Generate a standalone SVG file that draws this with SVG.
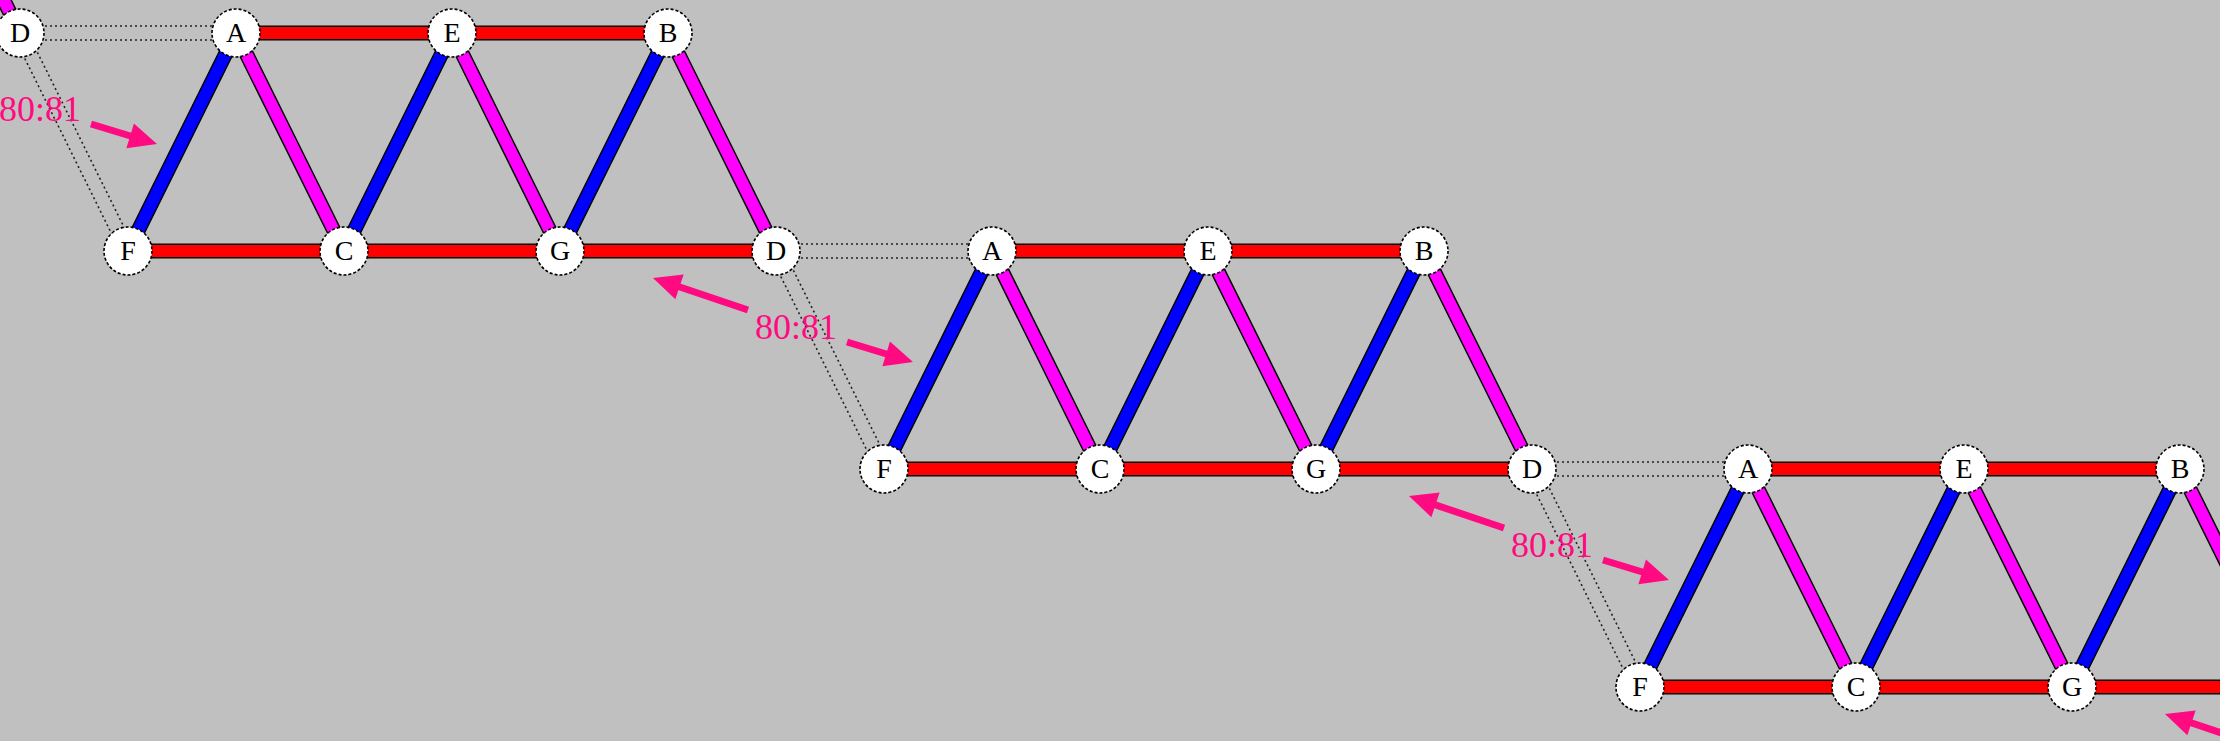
<svg xmlns="http://www.w3.org/2000/svg" width="2220" height="741" viewBox="0 0 2220 741">
  <style>
    .o { stroke: #000; stroke-width: 15; fill: none; }
    .r { stroke: #ff0000; stroke-width: 12; fill: none; }
    .b { stroke: #0000ff; stroke-width: 12; fill: none; }
    .m { stroke: #ff00ff; stroke-width: 12; fill: none; }
    .dot { stroke: #222; stroke-width: 1.6; stroke-dasharray: 2 3; fill: none; }
    .node circle { fill: #fff; stroke: #000; stroke-width: 1.6; stroke-dasharray: 3 2; }
    .node text { font-family: "Liberation Serif", "Times New Roman", serif; font-size: 28px; fill: #000; text-anchor: middle; }
    .lbl text { font-family: "Liberation Serif", "Times New Roman", serif; font-size: 36px; fill: #ff0a80; text-anchor: middle; }
    .arr { stroke: #ff0a80; stroke-width: 7; fill: none; marker-end: url(#head); }
  </style>
  <defs>
    <marker id="head" markerUnits="userSpaceOnUse" markerWidth="30" markerHeight="30" refX="2" refY="0" viewBox="0 -15 30 30" orient="auto" overflow="visible">
      <path d="M0,-13 L28,0 L0,13 z" fill="#ff0a80"/>
    </marker>
  </defs>
  <rect width="2220" height="741" fill="#c0c0c0"/>

  <g id="connectors">
    <!-- dotted double links D-A and D-F -->
    <line class="dot" x1="20" y1="26" x2="236" y2="26"/>
    <line class="dot" x1="20" y1="40" x2="236" y2="40"/>
    <line class="dot" x1="26.3" y1="29.9" x2="134.3" y2="247.9"/>
    <line class="dot" x1="13.7" y1="36.1" x2="121.7" y2="254.1"/>
    <line class="dot" x1="776" y1="244" x2="992" y2="244"/>
    <line class="dot" x1="776" y1="258" x2="992" y2="258"/>
    <line class="dot" x1="782.3" y1="247.9" x2="890.3" y2="465.9"/>
    <line class="dot" x1="769.7" y1="254.1" x2="877.7" y2="472.1"/>
    <line class="dot" x1="1532" y1="462" x2="1748" y2="462"/>
    <line class="dot" x1="1532" y1="476" x2="1748" y2="476"/>
    <line class="dot" x1="1538.3" y1="465.9" x2="1646.3" y2="683.9"/>
    <line class="dot" x1="1525.7" y1="472.1" x2="1633.7" y2="690.1"/>

    <!-- bar outlines -->
    <g class="o">
      <path d="M236,33H668 M128,251H776 M992,251H1424 M884,469H1532 M1748,469H2180 M1640,687H2288"/>
      <path d="M128,251L236,33 M344,251L452,33 M560,251L668,33 M884,469L992,251 M1100,469L1208,251 M1316,469L1424,251 M1640,687L1748,469 M1856,687L1964,469 M2072,687L2180,469"/>
      <path d="M-88,-185L20,33 M236,33L344,251 M452,33L560,251 M668,33L776,251 M992,251L1100,469 M1208,251L1316,469 M1424,251L1532,469 M1748,469L1856,687 M1964,469L2072,687 M2180,469L2288,687"/>
    </g>
    <!-- red chords -->
    <path class="r" d="M236,33H668 M128,251H776 M992,251H1424 M884,469H1532 M1748,469H2180 M1640,687H2288"/>
    <!-- blue diagonals -->
    <path class="b" d="M128,251L236,33 M344,251L452,33 M560,251L668,33 M884,469L992,251 M1100,469L1208,251 M1316,469L1424,251 M1640,687L1748,469 M1856,687L1964,469 M2072,687L2180,469"/>
    <!-- magenta diagonals -->
    <path class="m" d="M-88,-185L20,33 M236,33L344,251 M452,33L560,251 M668,33L776,251 M992,251L1100,469 M1208,251L1316,469 M1424,251L1532,469 M1748,469L1856,687 M1964,469L2072,687 M2180,469L2288,687"/>
  </g>

  <g id="labels" class="lbl">
    <g id="label-1">
      <path class="arr" d="M-8,92L-78.4,68.3"/>
      <path class="arr" d="M91,124L132.1,136.5"/>
      <text x="40" y="121">80:81</text>
    </g>
    <g id="label-2">
      <path class="arr" d="M748,310L677.6,286.3"/>
      <path class="arr" d="M847,342L888.1,354.5"/>
      <text x="796" y="339">80:81</text>
    </g>
    <g id="label-3">
      <path class="arr" d="M1504,528L1433.6,504.3"/>
      <path class="arr" d="M1603,560L1644.1,572.5"/>
      <text x="1552" y="557">80:81</text>
    </g>
    <g id="label-4">
      <path class="arr" d="M2260,746L2189.6,722.3"/>
    </g>
  </g>

  <g id="nodes">
    <g id="n-d0" class="node"><circle cx="20" cy="33" r="24"/><text x="20" y="42">D</text></g>
    <g id="n-a0" class="node"><circle cx="236" cy="33" r="24"/><text x="236" y="42">A</text></g>
    <g id="n-e0" class="node"><circle cx="452" cy="33" r="24"/><text x="452" y="42">E</text></g>
    <g id="n-b0" class="node"><circle cx="668" cy="33" r="24"/><text x="668" y="42">B</text></g>
    <g id="n-f0" class="node"><circle cx="128" cy="251" r="24"/><text x="128" y="260">F</text></g>
    <g id="n-c0" class="node"><circle cx="344" cy="251" r="24"/><text x="344" y="260">C</text></g>
    <g id="n-g0" class="node"><circle cx="560" cy="251" r="24"/><text x="560" y="260">G</text></g>
    <g id="n-d1" class="node"><circle cx="776" cy="251" r="24"/><text x="776" y="260">D</text></g>
    <g id="n-a1" class="node"><circle cx="992" cy="251" r="24"/><text x="992" y="260">A</text></g>
    <g id="n-e1" class="node"><circle cx="1208" cy="251" r="24"/><text x="1208" y="260">E</text></g>
    <g id="n-b1" class="node"><circle cx="1424" cy="251" r="24"/><text x="1424" y="260">B</text></g>
    <g id="n-f1" class="node"><circle cx="884" cy="469" r="24"/><text x="884" y="478">F</text></g>
    <g id="n-c1" class="node"><circle cx="1100" cy="469" r="24"/><text x="1100" y="478">C</text></g>
    <g id="n-g1" class="node"><circle cx="1316" cy="469" r="24"/><text x="1316" y="478">G</text></g>
    <g id="n-d2" class="node"><circle cx="1532" cy="469" r="24"/><text x="1532" y="478">D</text></g>
    <g id="n-a2" class="node"><circle cx="1748" cy="469" r="24"/><text x="1748" y="478">A</text></g>
    <g id="n-e2" class="node"><circle cx="1964" cy="469" r="24"/><text x="1964" y="478">E</text></g>
    <g id="n-b2" class="node"><circle cx="2180" cy="469" r="24"/><text x="2180" y="478">B</text></g>
    <g id="n-f2" class="node"><circle cx="1640" cy="687" r="24"/><text x="1640" y="696">F</text></g>
    <g id="n-c2" class="node"><circle cx="1856" cy="687" r="24"/><text x="1856" y="696">C</text></g>
    <g id="n-g2" class="node"><circle cx="2072" cy="687" r="24"/><text x="2072" y="696">G</text></g>
  </g>
</svg>
